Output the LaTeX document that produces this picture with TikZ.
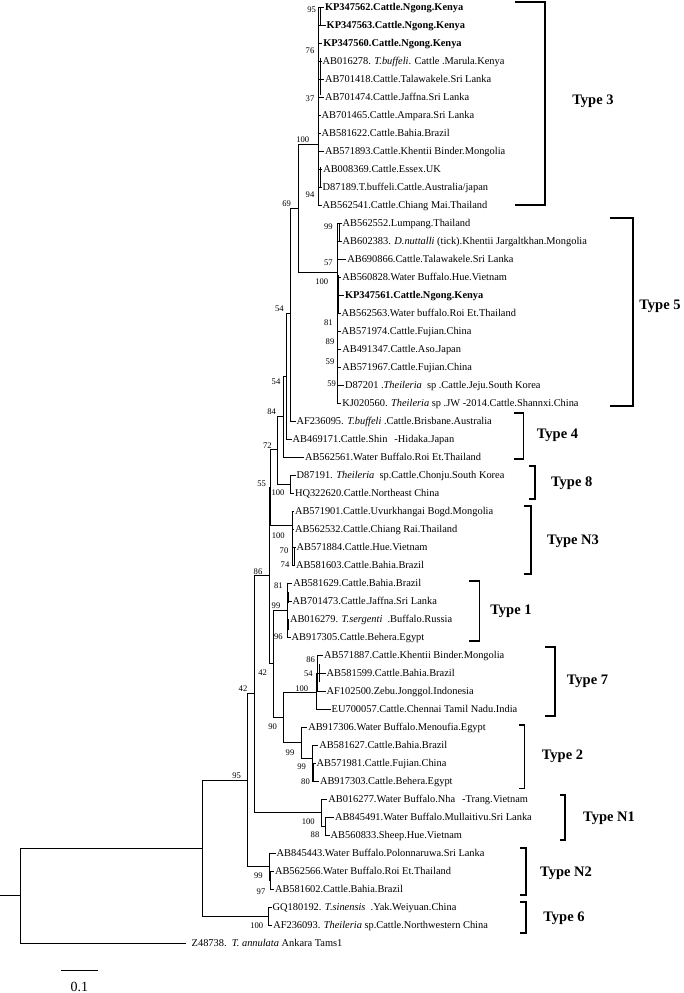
\documentclass[tikz,border=0pt]{standalone}
\usepackage{fontspec}
\setmainfont{Liberation Serif}
\newcommand\lf[4]{\node[leaf] (#1) at (#2,#3) {#4};}
\newcommand\bsl[4]{\node[bs] (#1) at (#2,#3) {#4};}
\newcommand\kid[2]{\draw[br] (#1 |- #2) -- (#2);}
\newcommand\kidl[2]{\draw[br] (#1 |- #2) -- (#2.west);}
\newcommand\vrt[3]{\draw[br] (#1 |- #2) -- (#1 |- #3);}
\begin{document}
\begin{tikzpicture}[x=1pt,y=-1pt,
 br/.style={line width=0.9pt, line cap=rect},
 leaf/.style={anchor=west, inner sep=0pt, outer xsep=1.5pt, text height=6.9pt, text depth=0pt, font=\fontsize{10.4}{12}\selectfont},
 bs/.style={inner sep=0pt, font=\fontsize{8.6}{10}\selectfont},
 brk/.style={line width=1.6pt},
 typ/.style={inner sep=0pt, text height=9.6pt, text depth=0pt, font=\fontsize{14.5}{16}\selectfont\bfseries}]
\useasboundingbox (0,0) rectangle (684,993);
% ---------- leaves ----------
\lf{lf1}{323.5}{7}{\textbf{KP347562.Cattle.Ngong.Kenya}}
\lf{lf2}{325.2}{25}{\textbf{KP347563.Cattle.Ngong.Kenya}}
\lf{lf3}{321.8}{43}{\textbf{KP347560.Cattle.Ngong.Kenya}}
\lf{lf4}{321.2}{61}{AB016278. \textit{T.buffeli}. Cattle .Marula.Kenya}
\lf{lf5}{323.5}{79}{AB701418.Cattle.Talawakele.Sri Lanka}
\lf{lf6}{323.5}{97}{AB701474.Cattle.Jaffna.Sri Lanka}
\lf{lf7}{320.2}{115}{AB701465.Cattle.Ampara.Sri Lanka}
\lf{lf8}{320.2}{133}{AB581622.Cattle.Bahia.Brazil}
\lf{lf9}{323.5}{151}{AB571893.Cattle.Khentii Binder.Mongolia}
\lf{lf10}{321.8}{169}{AB008369.Cattle.Essex.UK}
\lf{lf11}{321.2}{187}{D87189.T.buffeli.Cattle.Australia/japan}
\lf{lf12}{321.2}{205}{AB562541.Cattle.Chiang Mai.Thailand}
\lf{lf13}{341.2}{223}{AB562552.Lumpang.Thailand}
\lf{lf14}{341.2}{241}{AB602383. \textit{D.nuttalli} (tick).Khentii Jargaltkhan.Mongolia}
\lf{lf15}{345.8}{259}{AB690866.Cattle.Talawakele.Sri Lanka}
\lf{lf16}{340.8}{277}{AB560828.Water Buffalo.Hue.Vietnam}
\lf{lf17}{343.5}{295}{\textbf{KP347561.Cattle.Ngong.Kenya}}
\lf{lf18}{340.2}{313}{AB562563.Water buffalo.Roi Et.Thailand}
\lf{lf19}{340.2}{331}{AB571974.Cattle.Fujian.China}
\lf{lf20}{340.8}{349}{AB491347.Cattle.Aso.Japan}
\lf{lf21}{340.8}{367}{AB571967.Cattle.Fujian.China}
\lf{lf22}{343.5}{385}{D87201 .\textit{Theileria}\ \ sp .Cattle.Jeju.South Korea}
\lf{lf23}{340.8}{403}{KJ020560. \textit{Theileria} sp .JW -2014.Cattle.Shannxi.China}
\lf{lf24}{295.2}{421}{AF236095. \textit{T.buffeli} .Cattle.Brisbane.Australia}
\lf{lf25}{291.2}{439}{AB469171.Cattle.Shin\hspace{7pt}-Hidaka.Japan}
\lf{lf26}{303.5}{457}{AB562561.Water Buffalo.Roi Et.Thailand}
\lf{lf27}{295.2}{475}{D87191. \textit{Theileria}\ \ sp.Cattle.Chonju.South Korea}
\lf{lf28}{293.5}{493}{HQ322620.Cattle.Northeast China}
\lf{lf29}{293.5}{511}{AB571901.Cattle.Uvurkhangai Bogd.Mongolia}
\lf{lf30}{293.5}{529}{AB562532.Cattle.Chiang Rai.Thailand}
\lf{lf31}{295.2}{547}{AB571884.Cattle.Hue.Vietnam}
\lf{lf32}{294.5}{565}{AB581603.Cattle.Bahia.Brazil}
\lf{lf33}{291.8}{583}{AB581629.Cattle.Bahia.Brazil}
\lf{lf34}{291.2}{601}{AB701473.Cattle.Jaffna.Sri Lanka}
\lf{lf35}{288.5}{619}{AB016279. \textit{T.sergenti}\ \ .Buffalo.Russia}
\lf{lf36}{290.2}{637}{AB917305.Cattle.Behera.Egypt}
\lf{lf37}{322.5}{655}{AB571887.Cattle.Khentii Binder.Mongolia}
\lf{lf38}{325.2}{673}{AB581599.Cattle.Bahia.Brazil}
\lf{lf39}{325.2}{691}{AF102500.Zebu.Jonggol.Indonesia}
\lf{lf40}{330.2}{709}{EU700057.Cattle.Chennai Tamil Nadu.India}
\lf{lf41}{306.8}{727}{AB917306.Water Buffalo.Menoufia.Egypt}
\lf{lf42}{317.8}{745}{AB581627.Cattle.Bahia.Brazil}
\lf{lf43}{315.2}{763}{AB571981.Cattle.Fujian.China}
\lf{lf44}{318.5}{781}{AB917303.Cattle.Behera.Egypt}
\lf{lf45}{326.8}{799}{AB016277.Water Buffalo.Nha\hspace{7pt}-Trang.Vietnam}
\lf{lf46}{333.5}{817}{AB845491.Water Buffalo.Mullaitivu.Sri Lanka}
\lf{lf47}{329.2}{835}{AB560833.Sheep.Hue.Vietnam}
\lf{lf48}{275.2}{853}{AB845443.Water Buffalo.Polonnaruwa.Sri Lanka}
\lf{lf49}{273.5}{871}{AB562566.Water Buffalo.Roi Et.Thailand}
\lf{lf50}{273.5}{889}{AB581602.Cattle.Bahia.Brazil}
\lf{lf51}{271.2}{907}{GQ180192. \textit{T.sinensis}\ \ .Yak.Weiyuan.China}
\lf{lf52}{271.8}{925}{AF236093. \textit{Theileria} sp.Cattle.Northwestern China}
\lf{lf53}{190.2}{943}{Z48738.\ \ \textit{T. annulata} Ankara Tams1}
% ---------- internal nodes ----------
\coordinate (r0) at (0,895.5);
\coordinate (nR) at (20,895.5);
\coordinate (nA) at (202.7,848);
\coordinate (nB) at (247.5,780);
\coordinate (nT6) at (268.3,916);
\coordinate (nC) at (254,693.5);
\coordinate (nN2) at (269.3,866.5);
\coordinate (nN2s) at (270.8,880);
\coordinate (nD) at (269.3,575);
\coordinate (nN1) at (321.7,812.5);
\coordinate (nN1s) at (325,826);
\coordinate (nE) at (270.7,487);
\coordinate (nF) at (273.3,663);
\coordinate (nT1) at (287,610);
\coordinate (nG) at (283.3,717);
\coordinate (nT7) at (316,692);
\coordinate (nT7s) at (317.7,673);
\coordinate (nT2) at (301,742);
\coordinate (nT2s) at (312.3,758);
\coordinate (nT2ss) at (313.6,772);
\coordinate (nH) at (277.3,449);
\coordinate (nN3) at (292.7,525);
\coordinate (nN3s) at (294,556);
\coordinate (nT8) at (290.7,484);
\coordinate (nI) at (283.3,416);
\coordinate (nJ) at (286.7,376);
\coordinate (nK) at (290.7,313);
\coordinate (nL) at (298.3,208);
\coordinate (nT3) at (318.5,144);
\coordinate (nT3a) at (320.2,16);
\coordinate (nT5) at (337,272);
\coordinate (nT5a) at (339,232);
% ---------- branches ----------
\draw[br] (r0) -- (nR);
\vrt{nR}{nA}{lf53}
\kid{nR}{nA}
\draw[br, shorten >=5pt] (nR |- lf53) -- (lf53.west);
\vrt{nA}{nB}{nT6}
\kid{nA}{nB} \kid{nA}{nT6}
\vrt{nT6}{lf51}{lf52} \kidl{nT6}{lf51} \kidl{nT6}{lf52}
\vrt{nB}{nC}{nN2}
\kid{nB}{nC} \kid{nB}{nN2}
\vrt{nN2}{lf48}{nN2s} \kidl{nN2}{lf48} \kid{nN2}{nN2s}
\vrt{nN2s}{lf49}{lf50} \kidl{nN2s}{lf49} \kidl{nN2s}{lf50}
\vrt{nC}{nD}{nN1}
\kid{nC}{nD} \kid{nC}{nN1}
\vrt{nN1}{lf45}{nN1s} \kidl{nN1}{lf45} \kid{nN1}{nN1s}
\vrt{nN1s}{lf46}{lf47} \kidl{nN1s}{lf46} \kidl{nN1s}{lf47}
\vrt{nD}{nE}{nF}
\kid{nD}{nE} \kid{nD}{nF}
\vrt{nF}{nT1}{nG}
\kid{nF}{nT1} \kid{nF}{nG}
\vrt{nT1}{lf33}{lf36}
\kidl{nT1}{lf33} \kidl{nT1}{lf34} \kidl{nT1}{lf35} \kidl{nT1}{lf36}
\draw[br] (288.2,592) -- (288.2,603);
\draw[br] (288.2,620) -- (288.2,630);
\vrt{nG}{nT7}{nT2}
\kid{nG}{nT7} \kid{nG}{nT2}
\vrt{nT7}{nT7s}{lf40} \kid{nT7}{nT7s} \kidl{nT7}{lf40}
\vrt{nT7s}{lf37}{lf39}
\kidl{nT7s}{lf37} \kidl{nT7s}{lf38} \kidl{nT7s}{lf39}
\draw[br] (319,664) -- (319,682);
\vrt{nT2}{lf41}{nT2s} \kidl{nT2}{lf41} \kid{nT2}{nT2s}
\vrt{nT2s}{lf42}{lf44}
\kidl{nT2s}{lf42} \kidl{nT2s}{lf43} \kidl{nT2s}{lf44}
\vrt{nT2ss}{lf43}{lf44}
\vrt{nE}{nH}{nN3}
\kid{nE}{nH} \kid{nE}{nN3}
\vrt{nN3}{lf29}{lf32}
\kidl{nN3}{lf29} \kidl{nN3}{lf30} \kidl{nN3}{lf31} \kidl{nN3}{lf32}
\vrt{nN3s}{lf31}{lf32}
\vrt{nH}{nI}{nT8}
\kid{nH}{nI} \kid{nH}{nT8}
\vrt{nT8}{lf27}{lf28} \kidl{nT8}{lf27} \kidl{nT8}{lf28}
\vrt{nI}{nJ}{lf26}
\kid{nI}{nJ} \kidl{nI}{lf26}
\vrt{nJ}{nK}{lf25}
\kid{nJ}{nK} \kidl{nJ}{lf25}
\vrt{nK}{nL}{lf24}
\kid{nK}{nL} \kidl{nK}{lf24}
\vrt{nL}{nT3}{nT5}
\kid{nL}{nT3} \kid{nL}{nT5}
\vrt{nT3}{lf1}{lf12}
\kidl{nT3}{lf1} \kidl{nT3}{lf2} \kidl{nT3}{lf3} \kidl{nT3}{lf4}
\kidl{nT3}{lf5} \kidl{nT3}{lf6} \kidl{nT3}{lf7} \kidl{nT3}{lf8}
\kidl{nT3}{lf9} \kidl{nT3}{lf10} \kidl{nT3}{lf11} \kidl{nT3}{lf12}
\draw[br] (nT3a |- lf1) -- (nT3a |- lf2);
\draw[br] (320,58) -- (320,95);
\draw[br] (320,167) -- (320,187);
\vrt{nT5}{lf13}{lf23}
\kidl{nT5}{lf13} \kidl{nT5}{lf14} \kidl{nT5}{lf15} \kidl{nT5}{lf16}
\kidl{nT5}{lf17} \kidl{nT5}{lf18} \kidl{nT5}{lf19} \kidl{nT5}{lf20}
\kidl{nT5}{lf21} \kidl{nT5}{lf22} \kidl{nT5}{lf23}
\draw[br] (nT5a |- lf13) -- (nT5a |- lf14);
\draw[br] (338.4,275) -- (338.4,313);
% ---------- bootstrap values ----------
\bsl{b1}{311.7}{10}{95}
\bsl{b2}{310}{50.7}{76}
\bsl{b3}{310}{99}{37}
\bsl{b4}{302.7}{139.3}{100}
\bsl{b5}{310}{195}{94}
\bsl{b6}{286.7}{204}{69}
\bsl{b7}{328.3}{226.7}{99}
\bsl{b8}{328.3}{262.3}{57}
\bsl{b9}{321.7}{281.7}{100}
\bsl{b10}{328.3}{322.7}{81}
\bsl{b11}{330}{341.7}{89}
\bsl{b12}{330}{361.7}{59}
\bsl{b13}{331.7}{384}{59}
\bsl{b14}{279.3}{308.3}{54}
\bsl{b15}{276}{381.7}{54}
\bsl{b16}{271.7}{411.7}{84}
\bsl{b17}{267.3}{445.5}{72}
\bsl{b18}{261.7}{483.5}{55}
\bsl{b19}{278}{492.7}{100}
\bsl{b20}{278.3}{536}{100}
\bsl{b21}{284}{550.7}{70}
\bsl{b22}{285}{565}{74}
\bsl{b23}{258}{571.7}{86}
\bsl{b24}{278.3}{586}{81}
\bsl{b25}{276}{605.7}{99}
\bsl{b26}{278.3}{636.7}{96}
\bsl{b27}{262.7}{672.7}{42}
\bsl{b28}{310.7}{659.3}{86}
\bsl{b29}{308.3}{673.3}{54}
\bsl{b30}{301.7}{688.3}{100}
\bsl{b31}{243}{689}{42}
\bsl{b32}{272.7}{727}{90}
\bsl{b33}{290}{753}{99}
\bsl{b34}{301.7}{767}{99}
\bsl{b35}{305.5}{781.5}{80}
\bsl{b36}{236.7}{775.5}{95}
\bsl{b37}{308.3}{821.7}{100}
\bsl{b38}{315}{835}{88}
\bsl{b39}{258.3}{876}{99}
\bsl{b40}{261}{892}{97}
\bsl{b41}{256.7}{926}{100}
% ---------- brackets and type labels ----------
\draw[brk] (515,2) -- (545,2) -- (545,205) -- (515,205);
\node[typ] (t3) at (593,100) {Type 3};
\draw[brk] (610,218) -- (632.7,218) -- (632.7,406) -- (610,406);
\node[typ] (t5) at (660,305) {Type 5};
\draw[brk] (514,413) -- (523.3,413) -- (523.3,459) -- (514,459);
\node[typ] (t4) at (557.5,434) {Type 4};
\draw[brk] (529.3,466) -- (535,466) -- (535,499) -- (529.3,499);
\node[typ] (t8) at (571.7,482) {Type 8};
\draw[brk] (524,506) -- (530.7,506) -- (530.7,574) -- (524,574);
\node[typ] (tn3) at (573,540) {Type N3};
\draw[brk] (469.3,580.7) -- (479.3,580.7) -- (479.3,640.7) -- (469.3,640.7);
\node[typ] (t1) at (511,609.3) {Type 1};
\draw[brk] (545,646.7) -- (555,646.7) -- (555,716) -- (545,716);
\node[typ] (t7) at (587.5,679.3) {Type 7};
\draw[brk] (519.3,725) -- (524.3,725) -- (524.3,788.3) -- (519.3,788.3);
\node[typ] (t2) at (562.5,755) {Type 2};
\draw[brk] (560,795) -- (565,795) -- (565,840) -- (560,840);
\node[typ] (tn1) at (609,816.7) {Type N1};
\draw[brk] (520,847.7) -- (526,847.7) -- (526,895) -- (520,895);
\node[typ] (tn2) at (566,871.7) {Type N2};
\draw[brk] (520,902) -- (526,902) -- (526,933) -- (520,933);
\node[typ] (t6) at (564,917) {Type 6};
% ---------- scale bar ----------
\coordinate (s0) at (61,970);
\coordinate (s1) at (97.7,970);
\draw[br] (s0) -- (s1);
\node[inner sep=0pt, font=\fontsize{14}{16}\selectfont] (sc) at (79.3,987) {0.1};
\end{tikzpicture}
\end{document}
